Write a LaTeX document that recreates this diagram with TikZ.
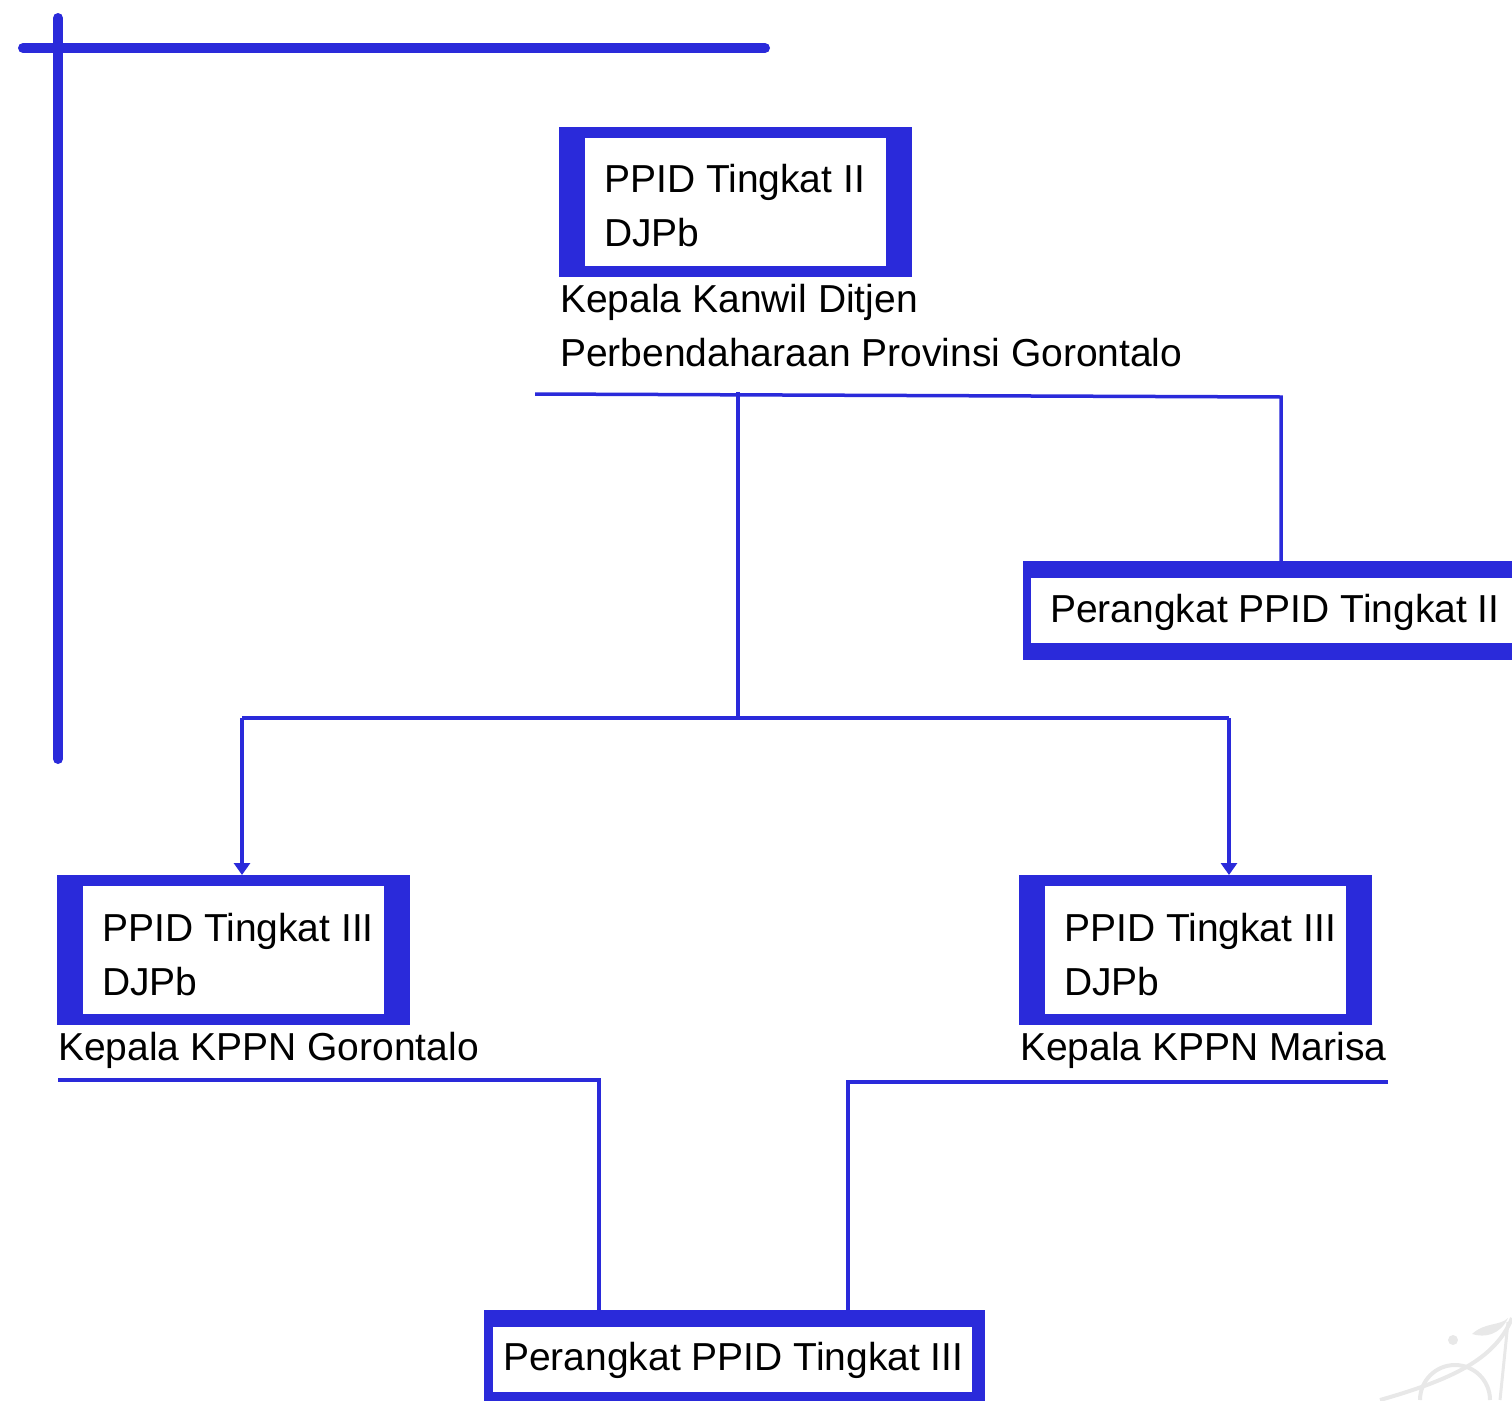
\documentclass[tikz,border=0pt]{standalone}
\usepackage{fontspec}
\setmainfont{Liberation Sans}
\usetikzlibrary{arrows.meta}
\definecolor{ppidblue}{RGB}{42,42,218}
\definecolor{wmgray}{RGB}{232,232,232}
\tikzset{
  outerbox/.style={fill=ppidblue, inner sep=0pt, anchor=north west},
  innerbox/.style={fill=white, inner sep=0pt, anchor=north west},
  textlines/.style={anchor=base west, inner sep=0pt, align=left, font=\fontsize{39}{54}\selectfont},
  link/.style={ppidblue, line width=3.5pt},
  frame/.style={ppidblue, line width=10pt, line cap=round}
}
\begin{document}
\begin{tikzpicture}[x=1pt, y=-1pt]
    \clip (0,0) rectangle (1512,1400);

    % faint ornament, bottom right
    \draw[wmgray, line width=4pt] (1380,1400) .. controls (1450,1380) and (1495,1360) .. (1512,1318);
    \draw[wmgray, line width=4pt] (1420,1400) arc (180:360:35);
    \draw[wmgray, line width=3pt] (1508,1322) -- (1500,1400);
    \fill[wmgray] (1472,1334) .. controls (1485,1322) and (1500,1326) .. (1508,1318) .. controls (1500,1335) and (1485,1338) .. (1472,1334);
    \fill[wmgray] (1453,1340) circle (5pt);

    \draw[frame] (23,48) -- (765,48);   % top rule
    \draw[frame] (58,18) -- (58,759);   % left rule

    % PPID Tingkat II (base = last line)
    \node[outerbox, minimum width=353pt, minimum height=150pt] (ppid2) at (559,127) {};
    \node[innerbox, minimum width=301pt, minimum height=128pt] (ppid2in) at (585,138) {};
    \node[textlines] (ppid2txt) at (604,246) {PPID Tingkat II\\DJPb};
    \node[textlines] (kanwil) at (560,366) {Kepala Kanwil Ditjen\\Perbendaharaan Provinsi Gorontalo};

    % Perangkat PPID Tingkat II
    \node[outerbox, minimum width=507pt, minimum height=99pt] (perangkat2) at (1023,561) {};
    \node[innerbox, minimum width=500pt, minimum height=65pt] (perangkat2in) at (1031,578) {};
    \node[textlines] (perangkat2txt) at (1050,622) {Perangkat PPID Tingkat II};

    % PPID Tingkat III
    \foreach \x/\name/\kota in {57/kppnA/Gorontalo, 1019/kppnB/Marisa} {
        \node[outerbox, minimum width=353pt, minimum height=150pt] (\name) at (\x,875) {};
        \node[innerbox, minimum width=301pt, minimum height=128pt] (\name in) at (\x+26,886) {};
        \node[textlines] (\name txt) at (\x+45,995) {PPID Tingkat III\\DJPb};
        \node[textlines] (\name kepala) at (\x+1,1060) {Kepala KPPN \kota};
    }

    % Perangkat PPID Tingkat III
    \node[outerbox, minimum width=501pt, minimum height=100pt] (perangkat3) at (484,1310) {};
    \node[innerbox, minimum width=479pt, minimum height=65pt] (perangkat3in) at (493,1327) {};
    \node[textlines] (perangkat3txt) at (503,1370) {Perangkat PPID Tingkat III};

    % connectors
    \coordinate (sep2l) at (535,394);
    \coordinate (sep2r) at (1281,397);
    \draw[link] (sep2l) -- (sep2r) -- (sep2r |- perangkat2.north);

    \coordinate (trunk) at (738,392);
    \coordinate (split) at (738,718);
    \draw[link] (trunk) -- (split);

    \coordinate (splitA) at (242,718);
    \coordinate (splitB) at (1229,718);
    \draw[link] (splitA) -- (splitB);
    \foreach \s/\b in {splitA/kppnA, splitB/kppnB} {
        \draw[link, -{Triangle[width=16pt, length=12pt]}] (\s) -- (\s |- \b.north);
    }

    \coordinate (sep3a) at (58,1080);
    \coordinate (sep3ar) at (599,1080);
    \draw[link] (sep3a) -- (sep3ar) -- (sep3ar |- perangkat3.north);
    \coordinate (sep3b) at (1388,1082);
    \coordinate (sep3bl) at (848,1082);
    \draw[link] (sep3b) -- (sep3bl) -- (sep3bl |- perangkat3.north);

\end{tikzpicture}
\end{document}
